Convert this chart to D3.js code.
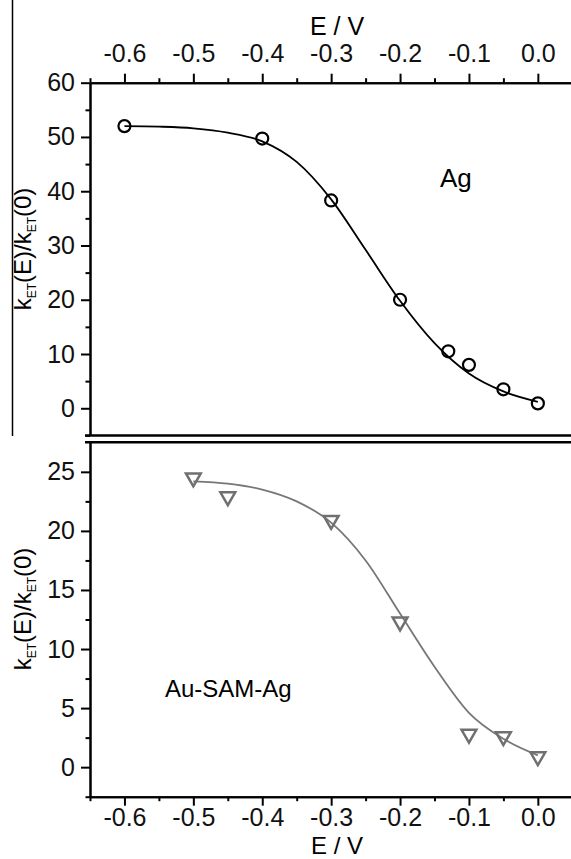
<!DOCTYPE html>
<html>
<head>
<meta charset="utf-8">
<script src="https://cdn.jsdelivr.net/npm/d3@7"></script>
<style>
  body { margin: 0; background: #fff; }
  svg { display: block; font-family: "Liberation Sans", Arial, sans-serif; }
  .axis path, .axis line { stroke: #000; stroke-width: 2; }
  .axis text { font-size: 25px; fill: #111; font-family: "Liberation Sans", Arial, sans-serif; }
</style>
</head>
<body>
<svg id="chart" width="571" height="859"></svg>
<script>
// tick values
const xTicks = [-0.6, -0.5, -0.4, -0.3, -0.2, -0.1, 0.0];
const xMinor = [-0.65, -0.55, -0.45, -0.35, -0.25, -0.15, -0.05, 0.05];
const topTicks = [0, 10, 20, 30, 40, 50, 60];
const topMinor = [-5, 5, 15, 25, 35, 45, 55];
const botTicks = [0, 5, 10, 15, 20, 25];
const botMinor = [-2.5, 2.5, 7.5, 12.5, 17.5, 22.5];

// Ag data (circles) and fitted curve
const agE = [-0.6, -0.4, -0.3, -0.2, -0.13, -0.1, -0.05, 0.0];
const agK = [52.0, 49.7, 38.3, 20.0, 10.5, 8.0, 3.5, 0.9];
const agFitE = [-0.6, -0.55, -0.5, -0.45, -0.4, -0.35, -0.3, -0.25, -0.2, -0.15, -0.1, -0.05, 0.0];
const agFitK = [52.0, 51.9, 51.6, 50.8, 49.2, 45.4, 38.5, 29.2, 19.8, 12.0, 6.4, 3.1, 1.2];

// Au-SAM-Ag data (triangles) and fitted curve
const auE = [-0.5, -0.45, -0.3, -0.2, -0.1, -0.05, 0.0];
const auK = [24.5, 22.9, 20.9, 12.3, 2.8, 2.6, 0.9];
const auFitE = [-0.5, -0.45, -0.4, -0.35, -0.3, -0.25, -0.2, -0.15, -0.1, -0.05, 0.0];
const auFitK = [24.2, 24.0, 23.5, 22.5, 20.7, 17.5, 13.0, 8.5, 4.6, 2.4, 1.0];

const svg = d3.select("#chart");
const fmt = d => d.toFixed(1);

const x = d3.scaleLinear().domain([-0.65, 0.05]).range([90, 572.3]);
const yTop = d3.scaleLinear().domain([-5, 60]).range([435.4, 82.7]);
const yBot = d3.scaleLinear().domain([-2.5, 27.5]).range([796.7, 442.3]);

// stray vertical rule at the far left of the upper panel
svg.append("line")
	.attr("x1", 12.5).attr("x2", 12.5)
	.attr("y1", 0).attr("y2", 436)
	.attr("stroke", "#000").attr("stroke-width", 1.5);

// panel frame lines between the two panels
svg.append("line")
	.attr("x1", 85).attr("x2", 571)
	.attr("y1", yTop(-5)).attr("y2", yTop(-5))
	.attr("stroke", "#000").attr("stroke-width", 2.5);
svg.append("line")
	.attr("x1", 85).attr("x2", 571)
	.attr("y1", yBot(27.5)).attr("y2", yBot(27.5))
	.attr("stroke", "#000").attr("stroke-width", 2.5);

// draw an axis with major labelled ticks and minor ticks
function drawAxis(axisFn, scale, major, minor, transform, padding, format) {
	svg.append("g")
		.attr("class", "axis")
		.attr("transform", transform)
		.call(axisFn(scale).tickValues(minor).tickSize(4.5).tickSizeOuter(0).tickFormat(""));
	svg.append("g")
		.attr("class", "axis")
		.attr("transform", transform)
		.call(axisFn(scale).tickValues(major).tickSize(9).tickSizeOuter(0).tickPadding(padding).tickFormat(format));
}

// top panel axes
drawAxis(d3.axisTop, x, xTicks, xMinor, "translate(0," + yTop(60) + ")", 11.7, fmt);
drawAxis(d3.axisLeft, yTop, topTicks, topMinor, "translate(" + x(-0.65) + ",0)", 6, d3.format("d"));

// bottom panel axes
drawAxis(d3.axisBottom, x, xTicks, xMinor, "translate(0," + yBot(-2.5) + ")", 3, fmt);
drawAxis(d3.axisLeft, yBot, botTicks, botMinor, "translate(" + x(-0.65) + ",0)", 6, d3.format("d"));

// axis titles
svg.append("text")
	.attr("x", 337).attr("y", 34.5)
	.attr("text-anchor", "middle")
	.style("font-size", "25px")
	.text("E / V");
svg.append("text")
	.attr("x", 337).attr("y", 853.8)
	.attr("text-anchor", "middle")
	.style("font-size", "24px")
	.text("E / V");

function yLabel(cx, cy) {
	let t = svg.append("text")
		.attr("transform", "translate(" + cx + "," + cy + ") rotate(-90)")
		.attr("text-anchor", "middle")
		.style("font-size", "24px");
	t.append("tspan").text("k");
	t.append("tspan").attr("dy", 5).style("font-size", "12px").text("ET");
	t.append("tspan").attr("dy", -5).text("(E)/k");
	t.append("tspan").attr("dy", 5).style("font-size", "12px").text("ET");
	t.append("tspan").attr("dy", -5).text("(0)");
}
yLabel(31, 249);
yLabel(31, 609);

// fitted curves
const lineTop = d3.line()
	.x((d, i) => x(agFitE[i]))
	.y(d => yTop(d))
	.curve(d3.curveMonotoneX);
svg.append("path")
	.attr("d", lineTop(agFitK))
	.attr("fill", "none")
	.attr("stroke", "#000")
	.attr("stroke-width", 1.8);

const lineBot = d3.line()
	.x((d, i) => x(auFitE[i]))
	.y(d => yBot(d))
	.curve(d3.curveMonotoneX);
svg.append("path")
	.attr("d", lineBot(auFitK))
	.attr("fill", "none")
	.attr("stroke", "#777")
	.attr("stroke-width", 1.8);

// Ag circles
svg.selectAll(".ag")
	.data(agK)
	.enter().append("circle")
	.attr("class", "ag")
	.attr("cx", (d, i) => x(agE[i]))
	.attr("cy", d => yTop(d))
	.attr("r", 6)
	.attr("fill", "none")
	.attr("stroke", "#000")
	.attr("stroke-width", 2.2);

// Au-SAM-Ag down triangles
const tri = d3.symbol(d3.symbolTriangle, 95);
svg.selectAll(".au")
	.data(auK)
	.enter().append("path")
	.attr("class", "au")
	.attr("d", tri)
	.attr("transform", (d, i) => "translate(" + x(auE[i]) + "," + yBot(d) + ") rotate(180)")
	.attr("fill", "none")
	.attr("stroke", "#707070")
	.attr("stroke-width", 2.5);

// panel labels
svg.append("text")
	.attr("x", 440).attr("y", 187)
	.style("font-size", "26px")
	.text("Ag");
svg.append("text")
	.attr("x", 165).attr("y", 697)
	.style("font-size", "24px")
	.text("Au-SAM-Ag");
</script>
</body>
</html>
